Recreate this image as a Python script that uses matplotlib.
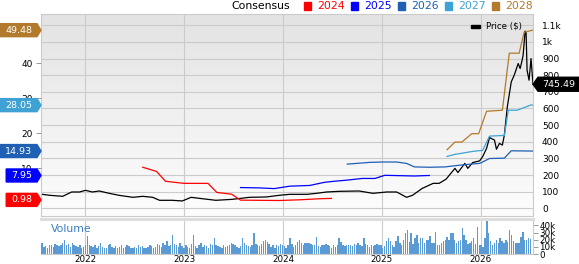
import numpy as np
import matplotlib
matplotlib.use('Agg')
import matplotlib.pyplot as plt
from matplotlib.patches import Polygon, Rectangle
from matplotlib.transforms import IdentityTransform
from matplotlib.colors import LinearSegmentedColormap

# ---- data (x in decimal years) ----
price_x = [2021.56, 2021.64, 2021.77, 2021.86, 2021.94, 2022.0, 2022.07, 2022.14, 2022.24, 2022.34,
           2022.48, 2022.58, 2022.68, 2022.75, 2022.88, 2022.98, 2023.07, 2023.15, 2023.32, 2023.49,
           2023.66, 2023.83, 2023.96, 2024.07, 2024.24, 2024.34, 2024.44, 2024.57, 2024.77, 2024.91,
           2025.05, 2025.15, 2025.25, 2025.31, 2025.41, 2025.52, 2025.58, 2025.65, 2025.74, 2025.77,
           2025.84, 2025.87, 2025.92, 2025.99, 2026.02, 2026.06, 2026.09, 2026.14, 2026.16, 2026.19,
           2026.22, 2026.24, 2026.27, 2026.31, 2026.34, 2026.38, 2026.40, 2026.42, 2026.43, 2026.45,
           2026.46, 2026.47, 2026.49, 2026.51, 2026.53]
price_y = [84, 78, 72, 98, 98, 108, 98, 104, 90, 78,
           66, 72, 66, 48, 48, 44, 66, 60, 48, 54,
           66, 68, 78, 84, 84, 90, 98, 102, 104, 90,
           98, 98, 66, 78, 120, 150, 150, 175, 240, 215,
           270, 240, 275, 285, 310, 360, 425, 410, 355, 390,
           380, 440, 610, 760, 800, 870, 840, 890, 920, 1065,
           1055, 830, 770, 900, 745.49]

eps24_x = [2022.58, 2022.72, 2022.81, 2022.90, 2023.0, 2023.24, 2023.33, 2023.48, 2023.57, 2023.96, 2024.17, 2024.37, 2024.49]
eps24_y = [10.3, 9.1, 6.3, 6.0, 5.7, 5.7, 3.1, 2.6, 0.9, 0.8, 1.0, 1.3, 1.4]
eps25_x = [2023.57, 2023.76, 2023.91, 2024.07, 2024.27, 2024.42, 2024.52, 2024.64, 2024.80, 2024.93, 2025.03, 2025.18, 2025.33, 2025.48]
eps25_y = [4.5, 4.4, 4.2, 4.9, 5.1, 6.0, 6.3, 6.6, 7.1, 7.1, 8.0, 7.9, 7.8, 7.95]
eps26_x = [2024.65, 2024.88, 2025.01, 2025.15, 2025.25, 2025.33, 2025.48, 2025.64, 2025.79, 2025.94, 2025.99, 2026.09, 2026.24, 2026.31, 2026.53]
eps26_y = [11.2, 11.7, 11.8, 11.8, 11.4, 10.4, 10.3, 10.4, 10.9, 11.3, 11.4, 12.8, 12.9, 15.0, 14.93]
eps27_x = [2025.66, 2025.74, 2025.81, 2025.89, 2025.97, 2026.02, 2026.09, 2026.24, 2026.28, 2026.37, 2026.51, 2026.53]
eps27_y = [13.4, 14.0, 14.3, 14.7, 15.0, 15.1, 19.2, 19.4, 26.6, 26.6, 28.1, 28.05]
eps28_x = [2025.66, 2025.74, 2025.81, 2025.91, 2025.98, 2026.06, 2026.22, 2026.29, 2026.39, 2026.44, 2026.53]
eps28_y = [15.3, 17.5, 17.5, 19.9, 19.9, 26.3, 26.6, 42.9, 42.9, 48.9, 49.48]

# current consensus per fiscal year (badges on the left)
consensus_now = [0.98, 7.95, 14.93, 28.05, 49.48]

# weekly volume, thousands, starting mid-July 2021
volume = [16, 10, 11, 9, 13, 12, 10, 14, 12, 11, 13, 15, 20, 12, 14, 10, 15, 13, 11, 10, 12, 8, 10, 12,
          25, 13, 11, 10, 12, 9, 11, 15, 10, 8, 9, 12, 14, 10, 9, 11, 8, 10, 13, 9, 10, 12, 11, 9, 8, 10,
          9, 12, 10, 11, 9, 8, 10, 12, 11, 9, 10, 14, 12, 10, 16, 12, 18, 11, 13, 27, 14, 12, 10, 15, 11, 9,
          12, 10, 9, 14, 26, 11, 9, 13, 16, 10, 12, 11, 9, 14, 12, 22, 13, 11, 10, 9, 12, 10, 11, 13, 15, 14,
          12, 10, 9, 11, 22, 16, 12, 11, 10, 13, 30, 14, 12, 11, 14, 18, 20, 17, 14, 10, 12, 9, 13, 11, 14, 12,
          11, 9, 13, 22, 14, 10, 12, 17, 19, 15, 12, 16, 15, 16, 14, 12, 13, 24, 11, 10, 13, 12, 14, 13, 11, 9,
          12, 10, 13, 23, 17, 13, 11, 12, 13, 12, 11, 14, 12, 15, 13, 11, 22, 14, 12, 10, 13, 11, 12, 14, 13, 12,
          9, 11, 18, 23, 18, 13, 10, 18, 25, 16, 13, 20, 30, 33, 17, 30, 14, 22, 26, 16, 22, 22, 16, 20, 19, 25,
          16, 15, 31, 12, 12, 16, 18, 20, 24, 20, 29, 29, 20, 16, 18, 20, 37, 27, 20, 14, 16, 18, 22, 14, 38, 13,
          12, 10, 22, 47, 30, 18, 13, 16, 20, 16, 22, 18, 16, 20, 17, 34, 27, 18, 16, 15, 15, 24, 31, 19, 20, 22, 21]

years = [2022, 2023, 2024, 2025, 2026]
series = [('2024', '#ff0000', eps24_x, eps24_y), ('2025', '#0000ff', eps25_x, eps25_y),
          ('2026', '#1f5fb4', eps26_x, eps26_y), ('2027', '#3fa2d4', eps27_x, eps27_y),
          ('2028', '#b27a2c', eps28_x, eps28_y)]

W, H = 579, 264
fig = plt.figure(figsize=(W / 100, H / 100), dpi=100)

def rect(l, t, r, b):
    return [l / W, 1 - b / H, (r - l) / W, (b - t) / H]

main_rect = rect(41, 14, 533, 216)
x_lim = (2021.55, 2026.53)
grid_c = '#cbcbcb'

# gradient background
bg = fig.add_axes(main_rect, zorder=0)
cmap = LinearSegmentedColormap.from_list('g', ['#e3e3e3', '#fdfdfd'])
bg.imshow(np.linspace(0, 1, 256).reshape(-1, 1), aspect='auto', cmap=cmap, extent=[0, 1, 0, 1])
bg.axis('off')

# price axis (right) with grid
axp = fig.add_axes(main_rect, zorder=1)
axp.patch.set_visible(False)
axp.set_xlim(*x_lim)
axp.set_ylim(-46.3, 1167.7)
axp.yaxis.tick_right()
axp.set_yticks(range(0, 1200, 100))
axp.set_yticklabels(['1.1k' if v == 1100 else '1k' if v == 1000 else str(v) for v in range(0, 1200, 100)])
axp.set_xticks(years)
axp.tick_params(axis='x', length=0, labelbottom=False)
axp.tick_params(axis='y', length=0, pad=6.5, labelsize=6.5)
axp.grid(True, color=grid_c, lw=0.8)
for s in axp.spines.values():
    s.set_color(grid_c)
    s.set_linewidth(0.8)
axp.plot(price_x, price_y, color='black', lw=0.9)

# EPS axis (left)
axe = fig.add_axes(main_rect, zorder=2)
axe.patch.set_visible(False)
axe.set_xlim(*x_lim)
axe.set_ylim(-3.63, 54.1)
axe.set_yticks([10, 20, 30, 40])
axe.set_xticks([])
axe.tick_params(axis='y', length=3.6, width=0.7, color='#999999', pad=2.5, labelsize=6.5)
for s in axe.spines.values():
    s.set_visible(False)
for name, c, xs, ys in series:
    axe.plot(xs, ys, color=c, lw=0.9)

# volume panel
axv = fig.add_axes(rect(41, 219, 533, 254), zorder=1)
vx = x_lim[0] + (np.arange(len(volume)) + 0.5) / 52.18
axv.bar(vx, volume, width=0.75 / 52.18, color='#5b9bd5', linewidth=0)
axv.set_xlim(*x_lim)
axv.set_ylim(0, 49)
axv.set_xticks(years)
axv.set_xticklabels([str(y) for y in years])
axv.tick_params(axis='x', length=0, pad=0.5, labelsize=6.3)
axv.yaxis.tick_right()
axv.set_yticks([0, 10, 20, 30, 40])
axv.set_yticklabels(['0', '10k', '20k', '30k', '40k'])
axv.tick_params(axis='y', length=3.6, width=0.7, color='#999999', pad=1, labelsize=6.3)
axv.grid(True, axis='x', color=grid_c, lw=0.8)
axv.set_axisbelow(True)
axv.spines['left'].set_visible(False)
axv.spines['right'].set_color(grid_c)
axv.spines['bottom'].set_color(grid_c)
axv.spines['top'].set_color('#dddddd')
axv.spines['top'].set_linewidth(2.2)
axv.text(0.02, 0.7, 'Volume', transform=axv.transAxes, color='#3a7fc4', fontsize=7.8, va='center')

# legend on top
fig.text(231 / W, 1 - 6 / H, 'Consensus', fontsize=7.8, va='center', color='black')
for i, (name, c, xs, ys) in enumerate(series):
    x0 = 304 + 47 * i
    fig.add_artist(Rectangle((x0, H - 10), 7, 8, color=c, transform=IdentityTransform()))
    fig.text((x0 + 13) / W, 1 - 6 / H, name, fontsize=7.8, va='center', color=c)

# price legend
fig.add_artist(Rectangle((471, H - 28), 9, 3.5, color='black', transform=IdentityTransform(), zorder=5))
fig.text(486 / W, 1 - 26 / H, 'Price ($)', fontsize=6.2, va='center', color='black', zorder=5)

# value badges
x0 = axe.bbox.x0
for (name, c, xs, ys), v in zip(series, consensus_now):
    txt = f'{v:.2f}'
    y = axe.transData.transform((x_lim[1], v))[1]
    w = len(txt) * 6.2 + 6
    pts = [(x0 - 4 - w, y - 6.5), (x0 - 4, y - 6.5), (x0, y), (x0 - 4, y + 6.5), (x0 - 4 - w, y + 6.5)]
    fig.add_artist(Polygon(pts, closed=True, color=c, transform=IdentityTransform(), zorder=5))
    fig.text((x0 - 4 - w / 2) / W, y / H, txt, fontsize=6.8, color='white', ha='center', va='center', zorder=6)

x1 = axp.bbox.x1
y = axp.transData.transform((x_lim[1], price_y[-1]))[1]
pts = [(x1, y), (x1 + 5, y - 7), (W, y - 7), (W, y + 7), (x1 + 5, y + 7)]
fig.add_artist(Polygon(pts, closed=True, color='black', transform=IdentityTransform(), zorder=5))
fig.text((x1 + 5 + (W - x1 - 5) / 2) / W, y / H, f'{price_y[-1]:.2f}', fontsize=6.8, color='white',
         ha='center', va='center', zorder=6)

fig.savefig('out.png', dpi=100)
